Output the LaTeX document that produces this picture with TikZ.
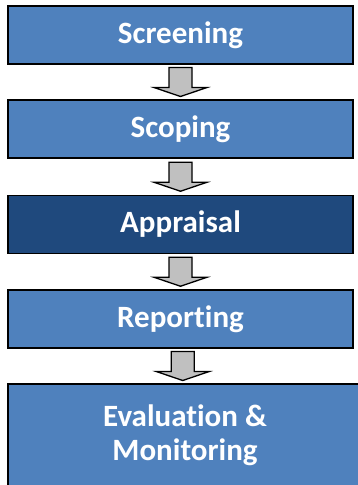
\documentclass[tikz,border=0pt]{standalone}
\usepackage{fontspec}
\setmainfont[Ligatures=NoCommon]{Carlito}
\usetikzlibrary{calc}

\definecolor{stageblue}{HTML}{4F81BD}
\definecolor{stagedark}{HTML}{1F497D}
\definecolor{arrowgray}{HTML}{C0C0C0}

\tikzset{
  stage/.style={draw=black, line width=1.3pt, fill=stageblue, text=white,
    font=\fontsize{31}{34}\selectfont\bfseries, align=center,
    minimum width=345pt, minimum height=58pt, inner sep=0pt},
  current/.style={fill=stagedark},
  blockarrow/.style={draw=black, line width=1.3pt, fill=arrowgray, line join=miter}
}

\begin{document}
\begin{tikzpicture}[x=1pt, y=-1pt]
    \useasboundingbox (0,0) rectangle (358,485);
    \clip (0,0) rectangle (358,485);
    \node[stage] (screening) at (180.5,35) {Screening};
    \node[stage] (scoping) at (180.5,129) {Scoping};
    \node[stage, current] (appraisal) at (180.5,224.5) {Appraisal};
    \node[stage] (reporting) at (180.5,319) {Reporting};
    \node[stage, minimum width=354pt, minimum height=102pt] (evaluation) at (185,435)
      {Evaluation \&\\Monitoring};
    \foreach \a/\b in {screening/scoping, scoping/appraisal, appraisal/reporting, reporting/evaluation} {
      \coordinate (mid\a) at ($(\a.south)!0.5!(\b.north)$);
      \draw[blockarrow] ($(mid\a)+(-11.5pt,14.5pt)$) -- ++(23pt,0pt) -- ++(0pt,-20pt)
        -- ++(15pt,0pt) -- ++(-26.5pt,-9pt) -- ++(-26.5pt,9pt) -- ++(15pt,0pt) -- cycle;
    }
\end{tikzpicture}
\end{document}
